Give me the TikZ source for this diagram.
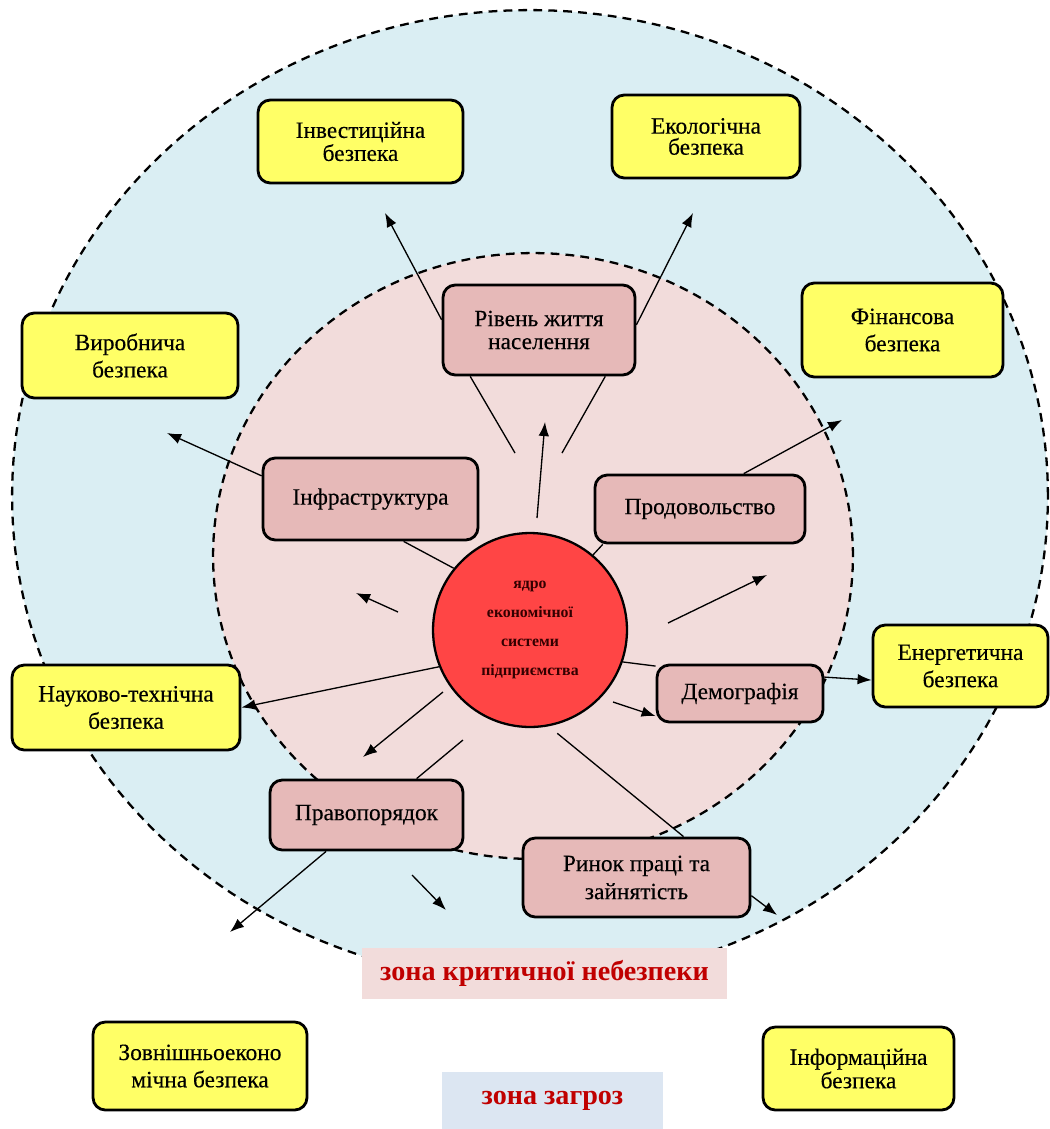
\documentclass[tikz,border=0pt]{standalone}
\usepackage{fontspec}
\setmainfont{Liberation Serif}
\newfontfamily\boxfont{Liberation Serif}[FakeBold=0.3]
\usetikzlibrary{arrows.meta}

\definecolor{zoneblue}{HTML}{DAEEF3}
\definecolor{zonepink}{HTML}{F2DCDB}
\definecolor{boxpink}{HTML}{E6B9B8}
\definecolor{boxyellow}{HTML}{FFFF66}
\definecolor{corered}{HTML}{FF4545}
\definecolor{labelred}{HTML}{C00000}
\definecolor{labelblue}{HTML}{DCE6F2}

\begin{document}
\begin{tikzpicture}[x=0.02cm, y=-0.02cm,
                    ybox/.style={draw=black, line width=1.6pt,
                                 rounded corners=7pt, fill=boxyellow,
                                 align=center, inner sep=2pt,
                                 font=\boxfont\fontsize{13.3}{15.5}\selectfont},
                    pbox/.style={draw=black, line width=1.6pt,
                                 rounded corners=7pt, fill=boxpink,
                                 align=center, inner sep=2pt,
                                 font=\boxfont\fontsize{13.3}{13}\selectfont},
                    tight/.style={font=\boxfont\fontsize{13.3}{12}\selectfont},
                    conn/.style={line width=0.75pt},
                    arr/.style={line width=0.75pt,
                                -{Latex[length=8pt, width=6pt]}},
                    zonelabel/.style={text=labelred, inner sep=0pt,
                                      font=\bfseries\fontsize{16}{18}\selectfont},
                    dashline/.style={line width=1.3pt,
                                     dash pattern=on 5pt off 3.5pt}]
  \useasboundingbox (0,0) rectangle (1050,1129);

  % zones
  \fill[zoneblue] (530,496) ellipse [x radius=10.36cm, y radius=9.72cm];
  \draw[dashline] (530,496) ellipse [x radius=10.36cm, y radius=9.72cm];
  \fill[zonepink] (533,556) ellipse [x radius=6.4cm, y radius=6.06cm];
  \draw[dashline] (533,556) ellipse [x radius=6.4cm, y radius=6.06cm];

  \node[fill=zonepink, minimum width=7.3cm, minimum height=1.02cm, zonelabel] (crit) at (544.5,973.5) {зона критичної небезпеки};
  \node[fill=labelblue, minimum width=4.42cm, minimum height=1.14cm, zonelabel] (thr) at (552.5,1100.5) {зона загроз};

  % core
  \node[circle, draw=black, line width=1.3pt, fill=corered,
        minimum size=3.88cm, align=center, text=black!80!red,
        font=\bfseries\fontsize{9}{16.4}\selectfont] (core) at (530,630)
        {ядро\\економічної\\системи\\підприємства};

  % inner factors
  \node[pbox, minimum width=3.84cm, minimum height=1.8cm] (riven) at (539,330) {Рівень життя\\населення};
  \node[pbox, minimum width=4.3cm, minimum height=1.64cm] (infra) at (370.5,499) {Інфраструктура};
  \node[pbox, minimum width=4.2cm, minimum height=1.36cm] (prod) at (700,509) {Продовольство};
  \node[pbox, minimum width=3.32cm, minimum height=1.14cm] (demo) at (740,693.5) {Демографія};
  \node[pbox, minimum width=3.86cm, minimum height=1.4cm] (pravo) at (366.5,815) {Правопорядок};
  \node[pbox, minimum width=4.54cm, minimum height=1.58cm,
        font=\boxfont\fontsize{13.3}{16}\selectfont] (rynok) at (636.5,877.5) {Ринок праці та\\зайнятість};

  % kinds of security
  \node[ybox, tight, minimum width=4.1cm, minimum height=1.66cm] (inv) at (360.5,141.5) {Інвестиційна\\безпека};
  \node[ybox, tight, minimum width=3.76cm, minimum height=1.66cm] (eco) at (706,136.5) {Екологічна\\безпека};
  \node[ybox, minimum width=4.32cm, minimum height=1.7cm] (vyr) at (130,355.5) {Виробнича\\безпека};
  \node[ybox, minimum width=4.02cm, minimum height=1.88cm] (fin) at (902.5,330) {Фінансова\\безпека};
  \node[ybox, minimum width=4.56cm, minimum height=1.7cm] (nauk) at (126,707.5) {Науково-технічна\\безпека};
  \node[ybox, minimum width=3.5cm, minimum height=1.64cm] (energ) at (960.5,666) {Енергетична\\безпека};
  \node[ybox, minimum width=4.28cm, minimum height=1.76cm] (zovn) at (200,1066) {Зовнішньоеконо\\мічна безпека};
  \node[ybox, tight, minimum width=3.82cm, minimum height=1.66cm] (inform) at (858.5,1068.5) {Інформаційна\\безпека};

  % free ends
  \coordinate (l1) at (515,453);
  \coordinate (l2) at (562,453);
  \coordinate (upa) at (537,518);
  \coordinate (upb) at (545,422);
  \coordinate (tinv) at (385,213);
  \coordinate (teco) at (693,213);
  \coordinate (tvyr) at (167,433);
  \coordinate (wa) at (398,612);
  \coordinate (wb) at (356,593);
  \coordinate (tfin) at (842,420);
  \coordinate (ea) at (668,623);
  \coordinate (eb) at (767,575);
  \coordinate (da) at (613,702);
  \coordinate (swa) at (443,692);
  \coordinate (swb) at (363,757);
  \coordinate (pa) at (463,740);
  \coordinate (tsw) at (230,932);
  \coordinate (sa) at (412,875);
  \coordinate (sb) at (446,910);
  \coordinate (tse) at (777,915);

  \foreach \i/\j in {riven.214/l1, riven.-35/l2, infra.-52/core.141,
                     core.50/prod.200, core.-19/demo.162, pa/pravo.36} {
    \draw[conn] (\i) -- (\j);
  }
  \draw[conn, shorten <=0.22cm] (core.-79) -- (rynok.41);

  \foreach \i/\j in {upa/upb, riven.174/tinv, riven.3/teco, infra.168/tvyr,
                     wa/wb, prod.39/tfin, ea/eb, da/demo.195,
                     demo.11/energ.189, core.202/nauk.east, swa/swb,
                     pravo.222/tsw, sa/sb, rynok.-9/tse} {
    \draw[arr] (\i) -- (\j);
  }
\end{tikzpicture}
\end{document}
